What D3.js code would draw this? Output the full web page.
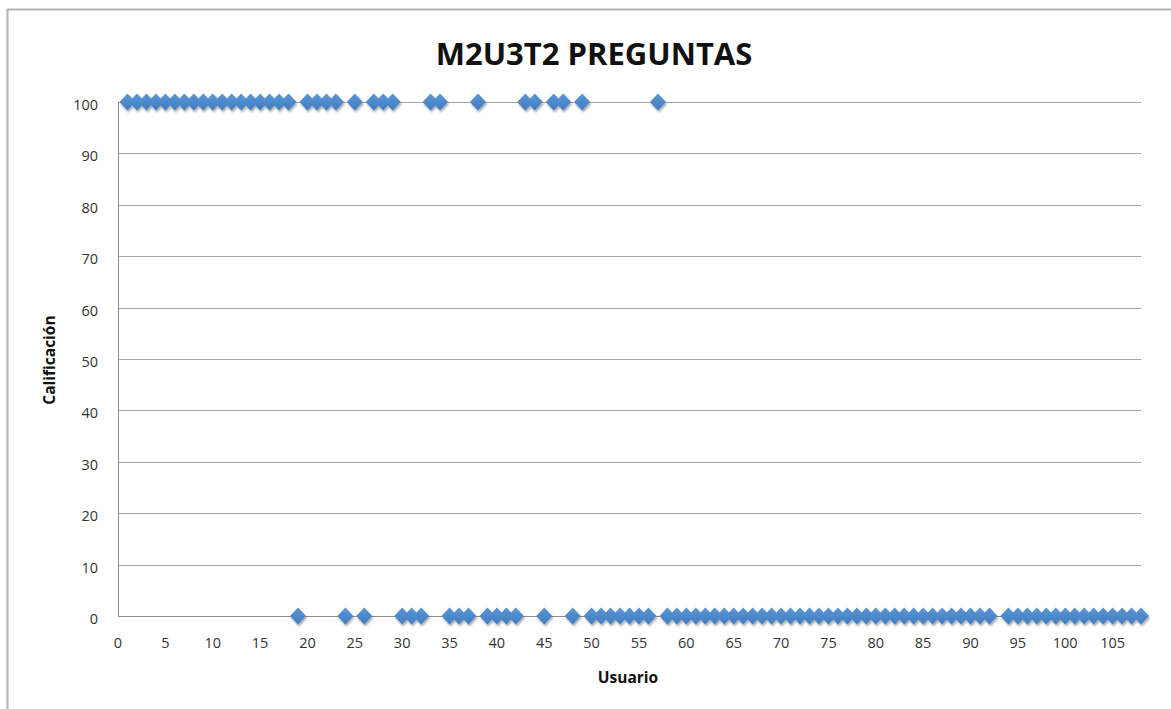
<!DOCTYPE html>
<html><head><meta charset="utf-8">
<script src="https://cdn.jsdelivr.net/npm/d3@7"></script>
<style>body{margin:0;background:#fff}</style>
</head><body>
<svg id="c" width="1171" height="709"></svg>
<script>
const title = "M2U3T2 PREGUNTAS";
const xLabel = "Usuario";
const yLabel = "Calificación";
const users = [1,2,3,4,5,6,7,8,9,10,11,12,13,14,15,16,17,18,19,20,21,22,23,24,25,26,27,28,29,30,31,32,33,34,35,36,37,38,39,40,41,42,43,44,45,46,47,48,49,50,51,52,53,54,55,56,57,58,59,60,61,62,63,64,65,66,67,68,69,70,71,72,73,74,75,76,77,78,79,80,81,82,83,84,85,86,87,88,89,90,91,92,94,95,96,97,98,99,100,101,102,103,104,105,106,107,108];
const scores = [100,100,100,100,100,100,100,100,100,100,100,100,100,100,100,100,100,100,0,100,100,100,100,0,100,0,100,100,100,0,0,0,100,100,0,0,0,100,0,0,0,0,100,100,0,100,100,0,100,0,0,0,0,0,0,0,100,0,0,0,0,0,0,0,0,0,0,0,0,0,0,0,0,0,0,0,0,0,0,0,0,0,0,0,0,0,0,0,0,0,0,0,0,0,0,0,0,0,0,0,0,0,0,0,0,0,0];
const xTicks = [0,5,10,15,20,25,30,35,40,45,50,55,60,65,70,75,80,85,90,95,100,105];
const yTicks = [0,10,20,30,40,50,60,70,80,90,100];

const svg = d3.select("#c");
const font = "'Open Sans', 'DejaVu Sans', sans-serif";
// frame
svg.append("path").attr("d","M7.5,709 L7.5,9.5 L1171,9.5").attr("fill","none").attr("stroke","#b3b3b3").attr("stroke-width",2);

const x = d3.scaleLinear().domain([0,108]).range([118,1141]);
const y = d3.scaleLinear().domain([0,100]).range([616,102]);

const defs = svg.append("defs");
const f = defs.append("filter").attr("id","sh").attr("x","-50%").attr("y","-50%").attr("width","200%").attr("height","200%");
f.append("feGaussianBlur").attr("in","SourceAlpha").attr("stdDeviation",1.2);
f.append("feOffset").attr("dx",0.5).attr("dy",2).attr("result","ob");
f.append("feComponentTransfer").append("feFuncA").attr("type","linear").attr("slope",0.35);
const m = f.append("feMerge"); m.append("feMergeNode"); m.append("feMergeNode").attr("in","SourceGraphic");
const g1 = defs.append("linearGradient").attr("id","gr").attr("x1",0).attr("y1",0).attr("x2",0).attr("y2",1);
g1.append("stop").attr("offset","0").attr("stop-color","#5b97d6");
g1.append("stop").attr("offset","1").attr("stop-color","#3f7cc0");

// grid
svg.append("g").selectAll("line").data(yTicks).join("line")
  .attr("x1",x(0)).attr("x2",x(108)).attr("y1",d=>Math.round(y(d))+0.5).attr("y2",d=>Math.round(y(d))+0.5)
  .attr("stroke","#a6a6a6").attr("stroke-width",1);
// axis lines
svg.append("line").attr("x1",x(0)+0.5).attr("x2",x(0)+0.5).attr("y1",y(100)).attr("y2",y(0)).attr("stroke","#8c8c8c");
svg.append("line").attr("x1",x(0)).attr("x2",x(108)).attr("y1",Math.round(y(0))+0.5).attr("y2",Math.round(y(0))+0.5).attr("stroke","#8c8c8c");

// tick labels
svg.append("g").selectAll("text").data(yTicks).join("text")
  .attr("x",98).attr("y",d=>y(d)+8).attr("text-anchor","end")
  .attr("font-family",font).attr("font-size",14.5).attr("fill","#333").text(d=>d);
svg.append("g").selectAll("text").data(xTicks).join("text")
  .attr("x",d=>x(d)).attr("y",648).attr("text-anchor","middle")
  .attr("font-family",font).attr("font-size",14.5).attr("fill","#333").text(d=>d);

// title and labels
svg.append("text").attr("x",594).attr("y",65).attr("text-anchor","middle")
  .attr("font-family",font).attr("font-weight","bold").attr("font-size",31).attr("fill","#111").text(title);
svg.append("text").attr("x",628).attr("y",683).attr("text-anchor","middle")
  .attr("font-family",font).attr("font-weight","bold").attr("font-size",15.5).attr("fill","#111").text(xLabel);
svg.append("text").attr("transform","translate(55,360) rotate(-90)").attr("text-anchor","middle")
  .attr("font-family",font).attr("font-weight","bold").attr("font-size",15.5).attr("fill","#111").text(yLabel);

// points
const data = users.map((u,i)=>({u, s:scores[i]}));
svg.append("g").attr("filter","url(#sh)").selectAll("path").data(data).join("path")
  .attr("d","M0,-8.5 L8,0 L0,8.5 L-8,0 Z")
  .attr("transform",d=>`translate(${x(d.u)},${y(d.s)})`)
  .attr("fill","url(#gr)");
</script>
</body></html>
